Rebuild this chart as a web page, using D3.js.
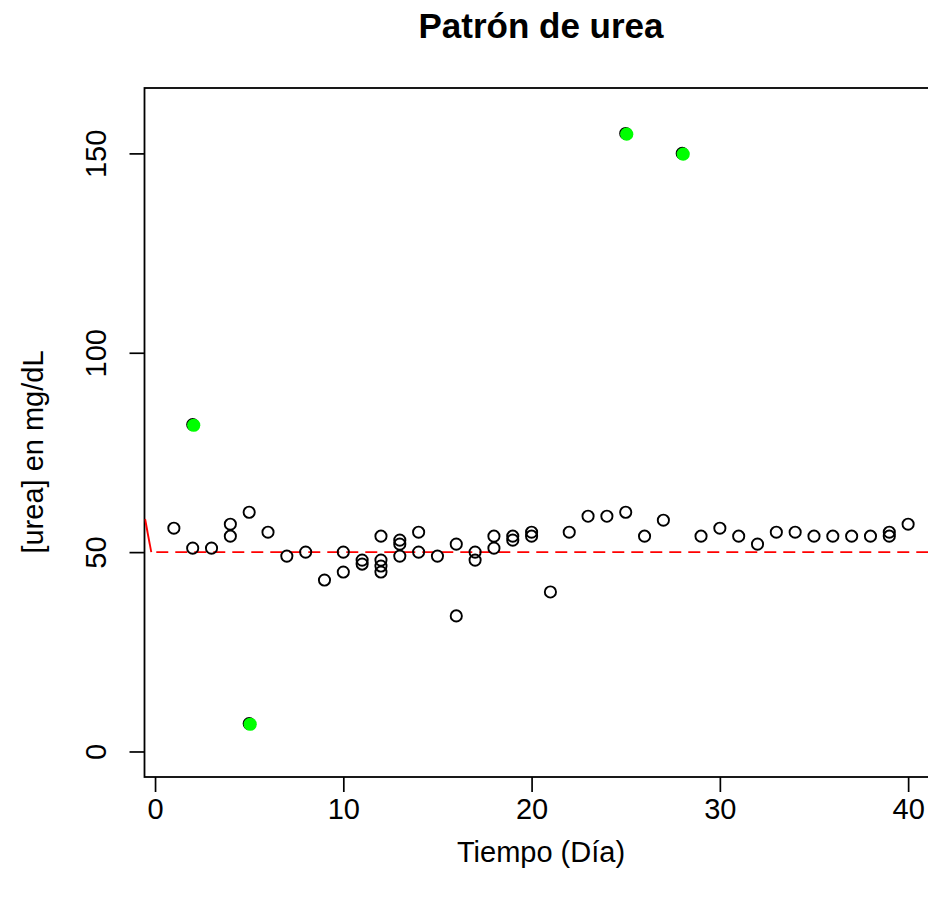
<!DOCTYPE html>
<html>
<head>
<meta charset="utf-8">
<script src="https://cdn.jsdelivr.net/npm/d3@7"></script>
<style>
  body { margin: 0; background: #fff; }
  text { font-family: "Liberation Sans", Arial, sans-serif; fill: #000; }
</style>
</head>
<body>
<div id="chart"></div>
<script>
'use strict';

// Regular measurements (day, urea mg/dL)
var days = [1, 2, 3, 4, 4, 5, 6, 7, 8, 9, 10, 10, 11, 11, 12, 12, 12, 12, 13, 13, 13,
            14, 14, 15, 16, 16, 17, 17, 18, 18, 19, 19, 20, 20, 21, 22, 23, 24, 25, 26, 27,
            29, 30, 31, 32, 33, 34, 35, 36, 37, 38, 39, 39, 40];
var urea = [56, 51, 51, 57, 54, 60, 55, 49, 50, 43, 50, 45, 48, 47, 54, 48, 46.5, 45, 53, 52, 49,
            55, 50, 49, 52, 34, 50, 48, 54, 51, 54, 53, 55, 54, 40, 55, 59, 59, 60, 54, 58,
            54, 56, 54, 52, 55, 55, 54, 54, 54, 54, 55, 54, 57];

// Outliers, highlighted in green
var outDays = [2, 5, 25, 28];
var outUrea = [82, 7, 155, 150];

// Reference level and the short red trend segment at the left
var refLevel = 50;
var trendX = [-0.53, -0.2];
var trendY = [58.3, 50];

var xTicks = [0, 10, 20, 30, 40];
var yTicks = [0, 50, 100, 150];

(function() {
    var width = 928, height = 919;
    var box = { left: 144.5, right: 937.5, top: 88, bottom: 777 };

    var svg = d3.select("#chart").append("svg")
        .attr("width", width)
        .attr("height", height);

    var x = d3.scaleLinear().domain([-0.56, 41.56]).range([box.left, box.right]);
    var y = d3.scaleLinear().domain([-6.4, 166.4]).range([box.bottom, box.top]);

    svg.append("clipPath").attr("id", "clip")
        .append("rect")
        .attr("x", box.left).attr("y", box.top)
        .attr("width", box.right - box.left).attr("height", box.bottom - box.top);

    var fontSize = 29;

    // Title
    svg.append("text")
        .attr("x", (box.left + box.right) / 2)
        .attr("y", 38)
        .attr("text-anchor", "middle")
        .attr("font-size", 35)
        .attr("font-weight", "bold")
        .text("Patrón de urea");

    // Axes
    var xAxis = d3.axisBottom(x).tickValues(xTicks).tickSize(15).tickPadding(6).tickFormat(d3.format("d"));
    var gx = svg.append("g")
        .attr("transform", "translate(0," + box.bottom + ")")
        .call(xAxis);
    gx.select(".domain").remove();
    gx.selectAll("line").attr("stroke", "#000").attr("stroke-width", 1.7);
    gx.selectAll("text").attr("font-size", fontSize).attr("font-family", "Liberation Sans, Arial, sans-serif");

    var yAxis = d3.axisLeft(y).tickValues(yTicks).tickSize(15).tickFormat(d3.format("d"));
    var gy = svg.append("g")
        .attr("transform", "translate(" + box.left + ",0)")
        .call(yAxis);
    gy.select(".domain").remove();
    gy.selectAll("line").attr("stroke", "#000").attr("stroke-width", 1.7);
    gy.selectAll("text")
        .attr("font-size", fontSize)
        .attr("font-family", "Liberation Sans, Arial, sans-serif")
        .attr("text-anchor", "middle")
        .attr("dy", 0)
        .attr("x", 0)
        .attr("transform", "translate(-39,0) rotate(-90)");

    // Plot box
    svg.append("rect")
        .attr("x", box.left).attr("y", box.top)
        .attr("width", box.right - box.left).attr("height", box.bottom - box.top)
        .attr("fill", "none")
        .attr("stroke", "#000")
        .attr("stroke-width", 1.8);

    // Axis titles
    svg.append("text")
        .attr("x", (box.left + box.right) / 2)
        .attr("y", 862)
        .attr("text-anchor", "middle")
        .attr("font-size", fontSize)
        .text("Tiempo (Día)");

    svg.append("text")
        .attr("transform", "translate(43,452) rotate(-90)")
        .attr("text-anchor", "middle")
        .attr("font-size", fontSize)
        .text("[urea] en mg/dL");

    var plot = svg.append("g").attr("clip-path", "url(#clip)");

    // Red trend segment and dashed reference line
    var trend = trendX.map(function(d, i) { return [d, trendY[i]]; });
    plot.append("path")
        .datum(trend)
        .attr("d", d3.line().x(function(d) { return x(d[0]); }).y(function(d) { return y(d[1]); }))
        .attr("fill", "none")
        .attr("stroke", "#ff0000")
        .attr("stroke-width", 1.9);

    plot.append("line")
        .attr("x1", x(trendX[1])).attr("x2", box.right)
        .attr("y1", y(refLevel)).attr("y2", y(refLevel))
        .attr("stroke", "#ff0000")
        .attr("stroke-width", 1.9)
        .attr("stroke-dasharray", "12,7")
        .attr("stroke-dashoffset", -5);

    // All points as open circles
    var pts = days.map(function(d, i) { return { day: d, urea: urea[i] }; })
        .concat(outDays.map(function(d, i) { return { day: d, urea: outUrea[i] }; }));

    plot.selectAll("circle.pt")
        .data(pts)
        .enter().append("circle")
        .attr("class", "pt")
        .attr("cx", function(d) { return x(d.day); })
        .attr("cy", function(d) { return y(d.urea); })
        .attr("r", 5.6)
        .attr("fill", "none")
        .attr("stroke", "#000")
        .attr("stroke-width", 1.9);

    // Outliers filled green on top
    var outs = outDays.map(function(d, i) { return { day: d, urea: outUrea[i] }; });
    plot.selectAll("circle.out")
        .data(outs)
        .enter().append("circle")
        .attr("class", "out")
        .attr("cx", function(d) { return x(d.day) + 1; })
        .attr("cy", function(d) { return y(d.urea) + 0.7; })
        .attr("r", 6.6)
        .attr("fill", "#00ff00");
})();
</script>
</body>
</html>
